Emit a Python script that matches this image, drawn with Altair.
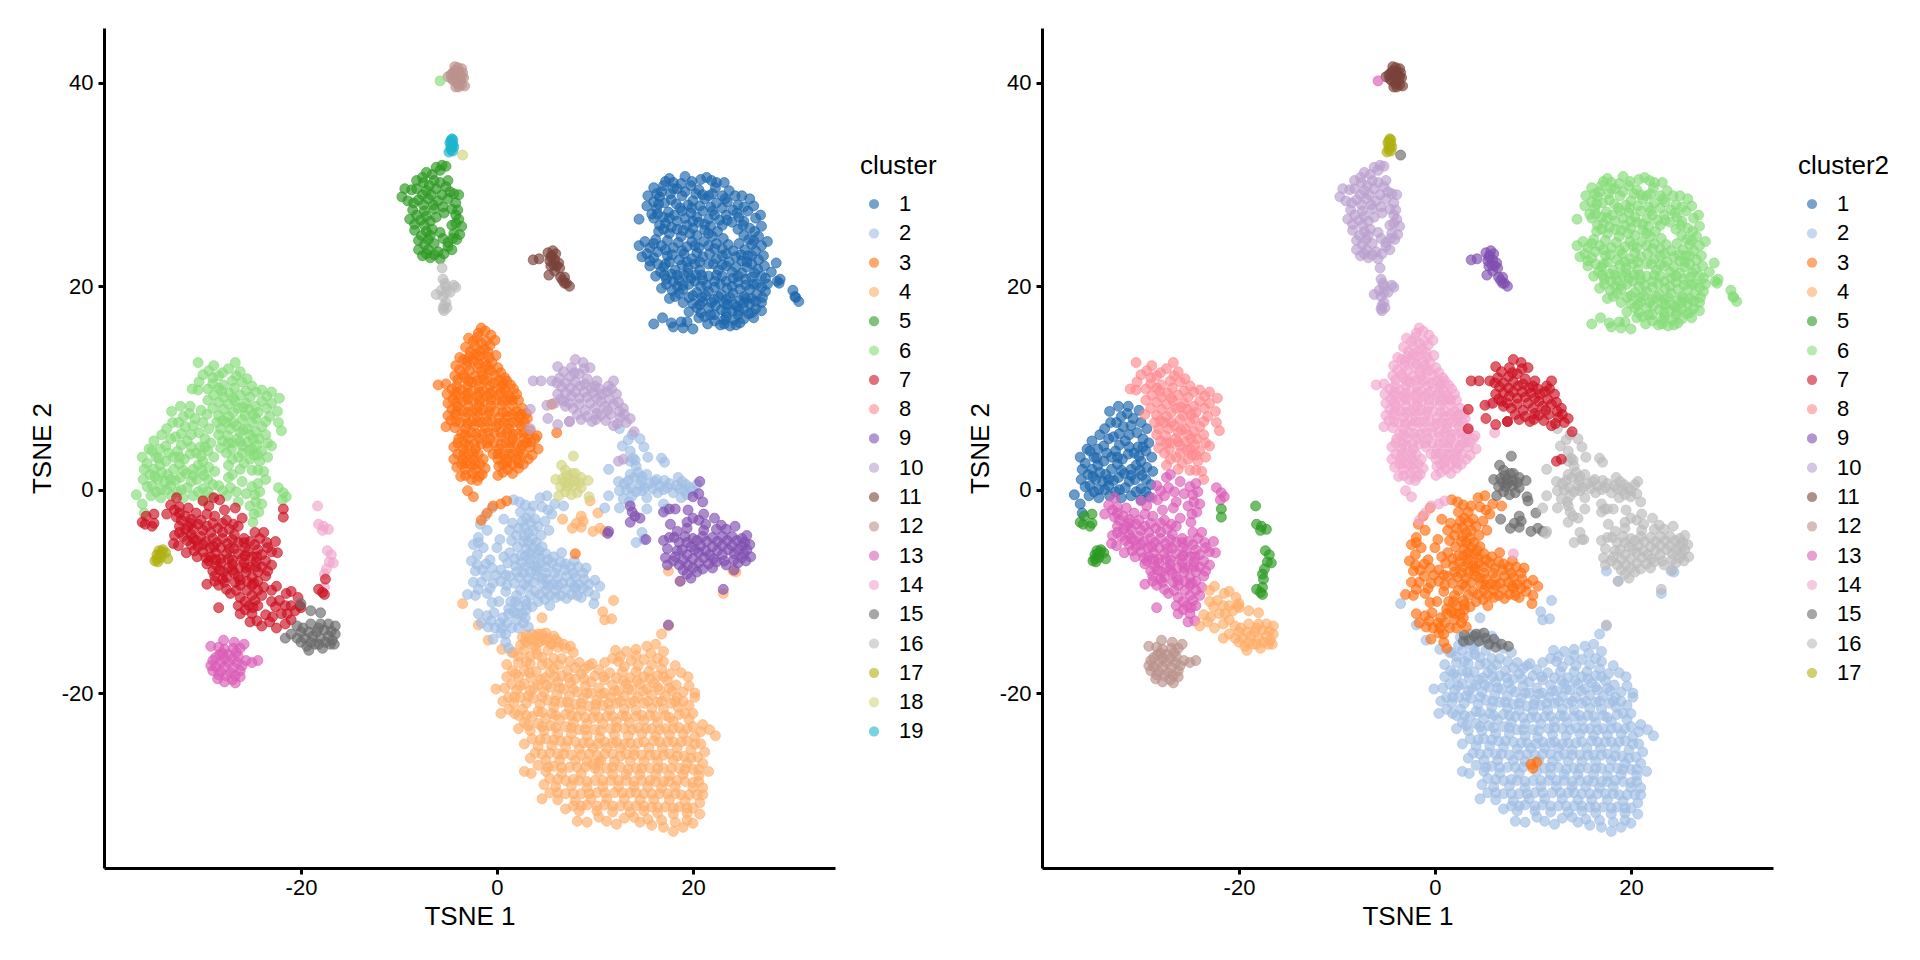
import altair as alt
import pandas as pd

blue_blob = [(17.6,30.6),(19.2,30.8),(21.4,30.7),(23.2,30.2),(16,29.7),(17,29.9),(18.4,29.6),(19.8,29.9),(20.6,29.5),(22.3,29.7),(23.7,29.4),(25,28.9),(25.8,28.6),(15.4,28.9),(16.6,28.8),(17.8,28.5),(18.9,28.9),(20,28.4),(21.2,28.6),(22.4,28.2),(23.5,28.3),(24.6,28),(26.2,27.9),(15.3,27.9),(16.3,27.6),(17.5,27.3),(18.7,27.7),(19.8,27.2),(21,27.4),(22.2,27),(23.4,27),(24.7,26.8),(25.6,27.4),(26.9,27),(16,26.7),(14.5,26.6),(17.2,26.2),(18.4,26.4),(19.4,26),(20.6,26.3),(21.8,25.9),(23,26),(24.6,25.6),(25.8,25.7),(27,25.9),(16.5,25.4),(17.6,25.2),(18.8,24.9),(20.4,25),(22,24.9),(23.1,24.7),(25.7,24.6),(26.7,24.9),(27.6,24.4),(14.5,24),(15.6,23.8),(16.8,24),(18,23.8),(19.4,23.9),(20.6,23.8),(21.6,24),(23,23.7),(24.1,23.5),(25.3,23.6),(26.4,23.5),(27.2,23),(14.8,22.9),(16,22.8),(17.4,23),(18.6,22.6),(19.9,22.7),(21,22.9),(22.4,22.7),(23.7,22.4),(25,22.5),(26,22.2),(27.3,22),(28.5,22.3),(15.6,22),(17,21.9),(18.2,21.6),(19.5,21.8),(20.7,21.6),(22.6,21.6),(24,21.4),(25,21.3),(26.3,21.3),(27,21),(28,21.4),(16.2,21),(17.3,20.7),(18.6,20.6),(19.8,20.8),(21,20.6),(22.2,20.5),(23.4,20.5),(24.6,20.4),(26.2,20.2),(27.6,20.2),(28.8,20.3),(16.8,19.8),(17.9,19.6),(19,19.7),(20.4,19.4),(21.6,19.5),(22.9,19.2),(24.1,19.3),(25.2,19),(26.5,19.2),(27.4,19.5),(17.6,18.8),(19,18.4),(20,18.3),(21,18.5),(22.3,18.1),(23.5,18.2),(24.5,18),(25.8,18.3),(27,18.4),(19.6,17.5),(20.8,17.4),(22.2,17.2),(23.4,17),(24.6,17.2),(25.7,17.3),(27,17.6),(21.5,16.3),(22.8,16.2),(23.8,16.1),(24.8,16.4),(16,16.3),(16.9,16.9),(18,16),(19,15.9),(20,15.8),(20.6,16.9),(19.4,16.5),(30.2,19.6),(30.4,19),(30.8,18.5),(28.6,20.5)]
blue_fill = [(18,30.2),(19.9,30.3),(20.8,30.5),(22.4,30.2),(16.8,29.3),(17.7,29.1),(19.2,29.3),(21,29),(22,29.1),(23,28.9),(24.3,28.9),(16,28.3),(17.1,28.2),(18.3,28.1),(19.5,28),(20.7,27.9),(21.8,27.8),(23,27.7),(24.1,27.5),(25.2,27.8),(15.8,27.1),(17,26.8),(18.1,27),(19.2,26.7),(20.4,26.8),(21.6,26.6),(22.7,26.5),(24,26.3),(25.2,26.4),(26.4,26.7),(16.6,26),(17.8,25.8),(19,25.5),(20,25.7),(21.2,25.5),(22.5,25.4),(25.2,25),(26.3,25.4),(15.1,24.4),(16.2,24.6),(17.4,24.5),(18.5,24.3),(19.9,24.4),(21.1,24.4),(22.4,24.2),(23.6,24.1),(24.7,24.2),(26,24.1),(27,24),(15.3,23.2),(16.4,23.4),(17.9,23.1),(19.1,23.2),(20.4,23.3),(21.7,23.2),(23,23),(24.4,22.9),(25.6,23),(26.7,22.6),(16.4,22.2),(17.6,22.4),(18.9,22.1),(20.2,22.2),(21.6,22.2),(23,22.1),(24.4,21.9),(25.5,21.9),(26.6,21.7),(16.7,21.4),(17.8,21.2),(19.1,21.1),(20.3,21.1),(21.6,21),(23,21),(24.1,20.8),(25.4,20.7),(27.4,20.8),(17.3,20.2),(18.4,20),(19.6,20.2),(20.8,20),(22.2,19.9),(23.5,19.8),(24.8,19.7),(25.8,19.7),(27,19.9),(18.2,19),(19.6,18.9),(20.9,18.9),(22.2,18.7),(23.4,18.7),(24.8,18.6),(26,18.8),(27.1,18.9),(20.4,17.9),(21.6,17.9),(22.9,17.7),(24,17.6),(25.2,17.8),(26.4,17.8),(21.2,17),(22.2,16.6),(23.2,16.7),(24.2,16.7),(25.2,16.8),(26.2,16.9),(17.8,16.4),(18.8,16.5),(30.5,18.9),(28.9,20.7)]
blue_more = [(17.2,30.3),(18.8,30.1),(21.9,30.4),(16.3,29.1),(18,29.6),(20.3,29.1),(21.6,28.9),(23.3,28.6),(16.5,28.1),(18.9,27.4),(19.9,27.7),(22,27.4),(24.5,27.2),(16.4,27.1),(17.6,26.7),(20,26.4),(21.2,26.1),(23.5,26.5),(25.1,26),(17,25.6),(18.4,25.6),(19.7,25.2),(21.6,25.2),(26.2,24.5),(16,24.2),(17.2,23.6),(18.9,23.5),(20.2,24),(22.2,23.7),(23.4,23.2),(24.9,23.1),(26,23),(15.6,22.5),(17.2,22.2),(19.4,22.4),(20.7,22.4),(22.1,22.2),(23.4,22),(25.5,22.4),(17.1,21.1),(18.4,21.1),(19.5,21.3),(20.9,21.1),(22.4,21.1),(24.6,21),(26,20.9),(18,20.5),(19,20.1),(20.2,20.5),(21.4,20.1),(22.8,20.2),(24,20),(25.4,20.1),(26.5,20.2),(18.6,19.3),(20,19.1),(21.3,19.1),(22.6,19),(23.8,18.9),(25.4,18.8),(26.4,18.5),(20.7,18.2),(21.9,18.4),(23.2,18.3),(24.2,18.2),(25.2,18.4),(21.8,17.2),(23.4,17.4),(24.7,17.6),(26,17.4),(23.2,16.3),(24.4,16.2)]
light_orange_blob = [(2.6,-14.5),(3.6,-14.2),(4.6,-14.2),(5.8,-14.4),(6.3,-15),(7,-15.6),(7.8,-16),(12.1,-15.8),(13.2,-15.9),(14.2,-15.7),(15.3,-15.4),(16.2,-15.2),(17,-15.9),(1.5,-16),(2.8,-15.8),(4,-15.7),(5.2,-15.8),(6.6,-16.6),(8.4,-17),(9.7,-17.1),(11,-17),(12.4,-16.9),(13.7,-16.8),(15,-16.7),(16.4,-16.6),(1,-17.2),(2.2,-17),(3.4,-17.1),(4.6,-17.2),(5.8,-17.6),(7.2,-17.8),(8.6,-18.1),(10,-18.3),(11.5,-18),(12.8,-17.9),(14.2,-17.9),(15.5,-17.9),(16.8,-17.6),(18.2,-17.3),(18.8,-18),(19.5,-18.4),(1,-18.4),(2.2,-18.4),(3.5,-18.5),(4.9,-18.5),(6.2,-18.9),(7.5,-19),(9,-19.3),(10.4,-19.5),(11.8,-19.2),(13.2,-19.1),(14.6,-19.1),(16,-19),(17.4,-18.8),(18.3,-19.2),(19.6,-19.3),(-.1,-19.6),(.8,-19.5),(2,-19.7),(3.4,-19.8),(4.8,-19.9),(6.1,-20.2),(7.4,-20.3),(8.8,-20.5),(10.2,-20.7),(11.6,-20.4),(13,-20.3),(14.4,-20.4),(15.8,-20.2),(17.2,-20.3),(18.4,-20.4),(20.2,-20.4),(20.2,-20),(.6,-20.8),(1.7,-21),(3,-21),(4.4,-21.1),(5.8,-21.4),(7.4,-21.5),(8.6,-21.7),(10,-21.8),(11.5,-21.7),(13,-21.6),(14.2,-21.7),(15.8,-21.5),(17,-21.6),(18.5,-21.4),(19.6,-21.2),(.4,-22),(2.2,-22.2),(3.6,-22.3),(5,-22.5),(6.4,-22.6),(7.8,-22.9),(9.2,-23),(10.8,-23),(12.2,-22.8),(13.5,-22.9),(15,-22.7),(16.4,-22.9),(18,-22.8),(19.6,-22.6),(21,-23.1),(21.7,-23.6),(22.3,-24.2),(2.2,-23.5),(3.4,-23.7),(4.8,-23.7),(6.2,-24),(7.6,-24),(9.2,-24.2),(10.5,-24.4),(12,-24.1),(13.4,-24.2),(14.8,-24),(16.2,-24.2),(17.6,-24.1),(19,-24),(20.2,-24.3),(2.8,-25),(4.2,-25.2),(5.6,-25.2),(7,-25.3),(8.4,-25.5),(9.8,-25.4),(11.2,-25.4),(12.6,-25.4),(14,-25.6),(15.5,-25.4),(16.9,-25.4),(18.4,-25.4),(19.8,-25.6),(21.2,-25.8),(3.4,-26.4),(5,-26.6),(6.4,-26.6),(8,-26.6),(9.2,-26.7),(10.6,-26.6),(12,-26.7),(13.6,-26.7),(15,-26.7),(16.4,-26.7),(18,-26.6),(19.4,-26.9),(21,-26.9),(2.8,-27.7),(3.5,-27.9),(5,-27.7),(6.6,-27.9),(8.6,-27.9),(10.4,-27.7),(11.8,-28),(13.2,-28),(14.6,-28),(16.2,-28),(17.6,-28.1),(19,-28),(20.6,-28.1),(21.6,-27.7),(4.8,-29),(6,-29.2),(7.6,-29.1),(9.2,-29.3),(10.8,-29.2),(12.4,-29.2),(14,-29.2),(15.4,-29.2),(16.8,-29.3),(18.2,-29.2),(20,-29.3),(21,-29.3),(4.6,-30.4),(6.2,-30.5),(8,-30.6),(9.6,-30.4),(11.2,-30.4),(13,-30.4),(14.6,-30.5),(16,-30.5),(17.6,-30.5),(19.2,-30.6),(20.7,-30.8),(7,-31.4),(8.4,-31.6),(10.2,-31.6),(11.8,-31.7),(13.6,-31.7),(15,-31.6),(16.4,-31.8),(18,-31.9),(19.4,-31.8),(20.7,-31.9),(8.2,-32.6),(9.2,-32.7),(11.2,-32.6),(12.2,-32.9),(14.6,-32.7),(15.8,-33),(17,-33.2),(18,-33.6),(19,-33.2),(20,-32.8)]
light_orange_fill = [(3.1,-15),(4.2,-15),(5.6,-15.2),(2.2,-16.4),(3.4,-16.4),(4.6,-16.5),(5.8,-16.6),(7.4,-16.9),(9,-17.6),(10.4,-17.7),(11.8,-16.6),(13,-17.4),(14.4,-17.3),(15.8,-17.2),(17,-16.9),(1.6,-17.8),(2.8,-17.8),(4,-17.9),(5.4,-18),(6.6,-18.3),(8,-18.6),(9.6,-18.9),(11,-18.7),(12.2,-18.5),(13.6,-18.5),(15,-18.4),(16.4,-18.3),(17.7,-18.1),(1.5,-19.1),(2.8,-19.1),(4.2,-19.2),(5.5,-19.4),(6.8,-19.6),(8.2,-19.9),(9.6,-20),(11,-20),(12.4,-19.8),(13.8,-19.7),(15.3,-19.6),(16.6,-19.7),(17.9,-19.8),(19,-19.9),(1.2,-20.4),(2.4,-20.4),(3.7,-20.5),(5.2,-20.7),(6.6,-20.9),(8,-21.1),(9.4,-21.3),(10.8,-21.2),(12.2,-21),(13.6,-21),(15,-21),(16.4,-20.9),(17.8,-21),(19,-20.8),(1.2,-21.6),(2.6,-21.6),(4.2,-21.8),(5.6,-22),(7,-22.1),(8.2,-22.3),(9.8,-22.4),(11.2,-22.3),(12.8,-22.2),(14.2,-22.3),(15.6,-22.2),(17.2,-22.2),(18.6,-22.1),(20,-22),(2.8,-22.9),(4.2,-23),(5.5,-23.2),(7,-23.3),(8.4,-23.6),(10,-23.6),(11.6,-23.5),(13,-23.5),(14.4,-23.4),(15.8,-23.5),(17.2,-23.5),(18.6,-23.4),(20,-23.3),(3.6,-24.5),(5,-24.5),(6.5,-24.7),(8,-24.8),(9.4,-24.9),(11,-24.8),(12.2,-24.8),(13.6,-24.9),(15,-24.8),(16.6,-24.8),(18,-24.8),(19.4,-24.7),(20.8,-25),(3.9,-25.9),(5.4,-25.9),(6.8,-26),(8.6,-26.1),(10.2,-26.1),(11.8,-26),(13.2,-26),(14.8,-26.1),(16.2,-26.1),(17.6,-26),(19.1,-26.2),(20.5,-26.3),(4.2,-27.1),(5.8,-27.2),(7.4,-27.3),(9,-27.3),(11.2,-27.4),(12.6,-27.3),(14.2,-27.4),(15.6,-27.4),(17,-27.4),(18.6,-27.4),(20,-27.5),(5.4,-28.4),(7,-28.6),(8.4,-28.6),(10,-28.6),(11.6,-28.6),(13.2,-28.6),(14.8,-28.6),(16.2,-28.7),(17.6,-28.7),(19.2,-28.7),(20.6,-28.7),(5.4,-29.8),(7,-29.9),(8.6,-29.9),(10.2,-29.8),(12,-29.8),(13.6,-29.8),(15,-29.9),(16.6,-29.9),(18.2,-29.9),(19.6,-30),(21,-30),(7.8,-31.1),(9.2,-31),(11,-31),(12.6,-31.1),(14.2,-31.1),(15.8,-31.2),(17.2,-31.2),(18.6,-31.2),(20,-31.3),(10.4,-32.2),(13,-32.3),(14,-32.2),(15.4,-32.4),(16.8,-32.5),(18.2,-32.7),(19.4,-32.5)]
light_orange_more = [(2.4,-15.3),(3.8,-15.4),(4.9,-14.8),(3,-16.9),(4.1,-16.2),(5.2,-17.1),(6.3,-17.2),(8,-17.5),(9.4,-17.3),(12.6,-16.4),(14.2,-16.3),(15.7,-16.1),(1.9,-18.1),(3.3,-18),(4.5,-18.7),(5.9,-18.4),(7.3,-18.5),(8.9,-18.6),(10.9,-18.4),(12.9,-18.8),(14.3,-18.8),(15.6,-18.6),(17,-18.4),(2.4,-19.3),(3.8,-19.5),(5.1,-19.2),(6.4,-19.5),(7.8,-19.6),(9.2,-20),(10.6,-20.1),(12,-19.8),(13.4,-19.6),(14.9,-19.8),(16.4,-19.4),(17.6,-19.5),(1.8,-20.4),(3.2,-20.3),(4.6,-20.4),(5.9,-20.8),(7.2,-20.9),(8.6,-21),(10.1,-21.1),(11.4,-21),(12.6,-20.8),(14,-20.8),(15.4,-20.8),(16.8,-20.8),(18.2,-20.8),(1.8,-22),(3,-22.2),(4.6,-21.9),(6,-22.2),(7.6,-22.2),(9,-22.4),(10.4,-22.4),(11.8,-22.3),(13.2,-22.3),(14.8,-22.2),(16.2,-22.3),(17.6,-22.4),(19.2,-22),(3.2,-23.2),(4.6,-23.3),(6,-23.4),(7.6,-23.4),(9,-23.6),(10.6,-23.7),(12.2,-23.4),(13.8,-23.6),(15.2,-23.5),(16.6,-23.6),(18,-23.5),(19.4,-23.5),(20.8,-23.8),(4.4,-24.6),(5.8,-24.6),(7.2,-24.7),(8.8,-24.9),(10.3,-25),(11.8,-24.9),(13,-25),(14.4,-24.9),(16,-24.7),(17.4,-24.8),(18.8,-24.8),(20.2,-25),(4.6,-26),(6.2,-26),(7.6,-26.1),(9.4,-26),(11,-26),(12.6,-26.2),(14,-26.1),(15.6,-26.1),(17,-26.1),(18.4,-26.2),(19.8,-26.4),(5.2,-27.3),(6.6,-27.3),(8.2,-27.3),(11.8,-27.3),(13.4,-27.5),(14.8,-27.4),(16.4,-27.4),(17.8,-27.4),(19.2,-27.5),(20.6,-27.5),(6.2,-28.5),(7.8,-28.5),(9.2,-28.7),(10.8,-28.6),(12.4,-28.6),(14,-28.7),(15.6,-28.6),(17,-28.7),(18.4,-28.6),(20,-28.8),(6.2,-29.8),(7.8,-29.9),(9.4,-29.9),(11,-29.8),(12.8,-29.8),(14.2,-29.8),(15.8,-29.9),(17.4,-29.9),(18.8,-30),(20.4,-30),(8.6,-31.1),(10.2,-31.1),(11.8,-31.1),(13.4,-31.1),(15,-31.1),(16.4,-31.2),(18,-31.3),(19.4,-31.3)]
light_orange_patch = [(9.8,-27),(10,-27.4),(10.4,-26.8)]
light_orange_dark = [(3,-14.3),(4,-14.4),(5,-14.1),(6,-14.7),(6.8,-15.2),(4.5,-14.9),(5.5,-15.2),(7.5,-15.4),(3.5,-14.8),(5.2,-14.6),(6.2,-15.5),(4.2,-14.2),(2.9,-14.9)]
light_orange_gap = [(9.5,-1.1),(10.3,-2.3),(8.6,-2.6),(8.8,-3.1),(8.1,-3.3),(7.7,-3.8),(8.6,-3.7),(9.8,-4.1),(10.5,-3.8),(11,-4.1),(6.7,-2.9)]
light_orange_stray = [(17.5,-8),(18.7,-9),(24.1,-8),(24.4,-8.1),(23.1,-10.2),(16.8,-14.2),(17.5,-13.4),(11.9,-10.9),(10.8,-12),(11,-12.8),(11.7,-12.7),(4.6,-12.6),(-1.9,-13.3),(-3.5,-11.2),(-.9,-14.8),(.5,-15.7),(1.7,-16)]
light_blue_low = [(1.7,-1),(2.3,-1.2),(2.9,-1.5),(3.4,-2.2),(4.4,-.8),(5.1,-.6),(5.9,-1.4),(6.8,-1.6),(5.6,-2.4),(4.9,-3.1),(4.2,-3.6),(3.4,-3.2),(2.6,-3.1),(.7,-2.9),(1.3,-4),(2,-4.5),(2.8,-4.6),(3.6,-4.8),(4.5,-4.5),(5.3,-4),(-.5,-1.8),(-1.2,-2.6),(-1.7,-3.4),(-1.9,-4.7),(-2.4,-5.4),(-1.4,-5.7),(-2.6,-7),(-.7,-6.9),(0,-5.7),(.3,-4.9),(1.3,-6.2),(1.1,-7.2),(2.7,-5.1),(3.7,-5.7),(4.4,-6.7),(3.4,-6.8),(2.4,-6.5),(1.9,-7.5),(2.9,-7.6),(3.9,-7.5),(5,-7.6),(5.8,-6.6),(6.6,-6.2),(6.1,-7.7),(7,-7.3),(7.9,-7),(8.3,-7.6),(9.1,-7.7),(.4,-7.9),(-.5,-7.7),(-1.5,-7.9),(-2.2,-8),(-2.4,-9.1),(-1.6,-9.1),(-.4,-9.2),(.4,-9),(1.3,-8.5),(2.3,-8.6),(3.2,-8.7),(4.2,-8.5),(5.2,-8.8),(6.2,-8.7),(7.1,-8.5),(8,-8.6),(8.9,-8.8),(10,-8.9),(10.5,-9.5),(-3,-10.3),(-2.2,-10.4),(-1,-10.2),(-.5,-11.1),(.9,-10),(1.4,-11),(2.4,-9.9),(2.9,-10.9),(3.9,-10),(5,-9.9),(6,-9.9),(7,-9.8),(8,-9.7),(9.3,-10),(10,-10.4),(9.9,-11.2),(-.3,-12.1),(1.2,-12.2),(2.2,-11.4),(3.6,-11.5),(5.4,-11.4),(4.2,-11),(-1.9,-12.2),(-1.6,-13.1),(-.6,-12.9),(.3,-13.1),(1,-13.1),(2,-12.8),(2.9,-12.6),(3.2,-13.5),(2.2,-13.6),(.4,-14.1),(-.4,-14.7),(.9,-15),(1.2,-15.6)]
light_blue_low_fill = [(2.4,-2.2),(3,-2.8),(1.6,-3.3),(3.9,-2.9),(5.2,-2),(4.6,-1.7),(2.2,-3.8),(3.2,-4.2),(4,-5.2),(3,-5.8),(2.1,-5.6),(1.5,-5),(4.6,-5.6),(5,-6.3),(4,-6.3),(2.9,-6.5),(1.8,-6.8),(3.4,-7.2),(4.5,-7.2),(5.6,-7.2),(6.5,-7.1),(7.5,-7.6),(5,-8.2),(4,-8),(2.7,-8.2),(3.7,-9.1),(4.7,-9.3),(5.7,-9.3),(6.7,-9.2),(7.5,-9.1),(8.4,-9.3),(9.4,-9.3),(1.8,-9.2),(1,-9.4),(3.1,-9.5),(4.4,-10.3),(5.4,-10.4),(6.5,-10.4),(7.6,-10.3),(8.6,-10.6),(3,-11.8),(2.6,-12.2),(1.7,-12),(.6,-12.6),(1.5,-13.6),(.9,-14.2),(-.2,-13.6),(-1.9,-5.2),(-2,-6.4),(-2,-7.4),(-1.1,-7.3),(-1,-4),(.7,-6.6)]
light_blue_low_more = [(3.7,-1.6),(2.8,-3.7),(3.7,-4),(3.2,-5.2),(4.3,-6),(3.4,-6.2),(2.5,-7.2),(4.1,-7.7),(5.2,-6.9),(5.9,-8.2),(6.9,-7.9),(7.8,-8.2),(8.8,-8.2),(3.4,-8.1),(4.6,-8.7),(2,-8.1),(.9,-8.4),(-.1,-8.4),(-1.1,-8.5),(-1.9,-9.8),(-.7,-9.7),(2,-10.4),(3.4,-10.4),(4.9,-10.8),(6,-10.6),(7.1,-10.7),(8.2,-10.4),(2.8,-9.3),(5.2,-9.4),(6.2,-9.4),(7.9,-9.5),(8.8,-9.7),(.2,-11),(1.9,-11),(3,-11.3),(1.2,-11.7),(2.1,-12.2),(.5,-13.6),(-.9,-13.5),(2.7,-13.1),(-1,-12.4)]
light_blue_up = [(12.8,4.3),(13.6,3.8),(15,4.2),(13.6,2.8),(14.2,2.3),(16.8,3.1),(17.1,2.7),(11.4,2),(12.4,.8),(13.6,1.5),(15.3,1.5),(16.1,.8),(17.1,.9),(18.5,1.2),(19.3,.5),(20.4,.5),(20,-.1),(18.3,.4),(17,0),(15.6,.6),(14.6,.4),(13.2,0),(12.5,-.1),(13.8,-.6),(15.3,-.8),(11.4,-.6),(11,-1.8),(12.5,-1.8),(15.3,-1.9),(17,-1.4),(18.8,-.8),(17.3,-1.9),(14.8,-4.2),(14.2,-5.2),(15,-4.9),(12.5,6),(13.8,5.4),(14.6,5),(13.4,4.9),(15.4,3.2),(18,-.3),(14.8,-.1),(14,1.2),(13,.6),(14.7,.9),(15.9,.1),(16.6,.4),(17.6,.6),(18.9,.8),(19.7,.2),(13.5,-1.2),(14.4,1.7),(13.9,3.1),(14.2,-.2),(12.9,-.9),(16.4,-.3),(13.4,.9),(13.7,.2),(15.1,.2),(16.3,1),(17.4,.2),(18.6,.1),(19.1,-.1),(19.4,-.5),(14.1,2.9),(14.8,1.3)]
orange_blob = [(-1.6,15.9),(-.6,15.2),(-2.9,14.9),(-2,15),(-1.1,14.6),(-.2,14.7),(-3.2,14),(-2.2,14.1),(-1.3,13.8),(-3.8,13),(-2.8,13.1),(-1.8,13.1),(-.8,13),(-.1,13.2),(-4.2,12.2),(-3.1,12.2),(-2,12),(-1,12.2),(.1,12),(-4.3,11.2),(-3.4,11.3),(-2.3,11.1),(-1.4,11.2),(-.2,11.2),(.8,11),(-6,10.3),(-5.2,10.4),(-4.1,10.2),(-3,10.2),(-1.8,10.2),(-.7,10.2),(.5,10.2),(1.4,10.3),(-5.1,9.4),(-4.2,9.3),(-3.2,9.2),(-2,9.2),(-1,9.2),(.2,9.3),(1.2,9.3),(2,9.4),(-5,8.5),(-4,8.2),(-2.9,8.2),(-1.8,8.2),(-.6,8.2),(.5,8.3),(1.6,8.3),(2.6,8),(-5,7.3),(-4.2,7.4),(-3.2,7.1),(-2,7.2),(-1,7.3),(.2,7.1),(1.1,7.2),(2.2,7.2),(3.1,7),(-5.2,6.2),(-4.3,6.1),(-3.2,6),(-2.3,6.3),(-1.2,6.1),(-.1,6.2),(1.2,6),(2.5,6.2),(3.4,5.8),(-3.9,5),(-2.9,5),(-1.8,5),(-.7,5),(.5,5.2),(1.6,5),(2.8,5),(3.9,5),(4.2,4),(-4.4,4.2),(-3.4,4),(-2.2,4),(-.9,4.2),(.2,4),(1.3,4.1),(2.4,4),(3.4,4.2),(-4.4,3),(-3.5,3),(-2.4,3),(-1.4,3),(.1,3),(1,3),(2,3),(3.2,3),(-4.1,2.2),(-3.2,2),(-2.2,2),(-1.2,2.1),(.2,2.3),(1.1,2),(2.2,2.1),(-3.7,1.3),(-2.6,1),(-2,.9),(-1.5,1.5),(-3,-.1),(-2.4,-.7),(.1,1.4)]
orange_fill = [(-1.2,15.6),(-2.4,14.6),(-.7,14.2),(-1.7,13.6),(-2.7,13.6),(-3.4,12.8),(-2.4,12.7),(-1.3,12.6),(-.5,12.5),(-3.8,11.8),(-2.8,11.7),(-1.6,11.6),(-.6,11.7),(.4,11.5),(-4,10.8),(-2.9,10.7),(-2,10.7),(-1,10.7),(.2,10.7),(1,10.7),(-4.6,9.9),(-3.6,9.8),(-2.5,9.7),(-1.4,9.7),(-.4,9.7),(.8,9.8),(1.7,9.9),(-4.5,8.9),(-3.5,8.7),(-2.4,8.7),(-1.3,8.7),(-.1,8.8),(1,8.8),(2.2,8.8),(-4.6,7.9),(-3.5,7.7),(-2.5,7.7),(-1.4,7.8),(-.2,7.7),(1,7.7),(2,7.7),(3,7.5),(-4.7,6.8),(-3.7,6.6),(-2.6,6.7),(-1.6,6.6),(-.5,6.7),(.7,6.6),(1.7,6.6),(2.8,6.6),(-3.6,5.5),(-2.6,5.6),(-1.5,5.5),(-.3,5.6),(1,5.6),(2.1,5.5),(3.2,5.4),(4.1,5.3),(-4,4.6),(-2.9,4.4),(-1.6,4.5),(-.3,4.6),(.9,4.6),(2,4.5),(3,4.6),(-4,3.5),(-2.9,3.5),(-1.9,3.5),(-.4,3.5),(.6,3.5),(1.6,3.5),(2.7,3.5),(3.6,3.4),(-3.6,2.5),(-2.7,2.5),(-1.7,2.5),(.6,2.5),(1.6,2.5),(2.7,2.5),(-3.2,1.4),(-2.5,1.6),(-1.8,1.3),(.6,1.7),(1.6,1.6)]
orange_more = [(-1.9,15.4),(-1.6,14.4),(-.9,13.5),(-2.2,13.3),(-3,12.6),(-1.9,12.4),(-.9,11.8),(-3.3,11),(-2.6,10.6),(-1.3,10.8),(-.3,10.5),(.6,10.4),(-4.1,9.6),(-3,9.5),(-1.8,9.6),(-.7,9.5),(.4,9.6),(1.4,9),(-4.1,8.6),(-3,8.9),(-1.8,8.7),(-.6,8.8),(.6,8.7),(1.6,8.8),(-4.1,7.7),(-3,7.6),(-2,7.7),(-.8,7.7),(.6,7.6),(1.6,7.4),(2.5,7.4),(-4.2,6.7),(-3,6.5),(-2,6.7),(-1,6.7),(.2,6.5),(1.2,6.5),(2.2,6.6),(-3.2,5.4),(-2.1,5.5),(-.9,5.6),(.4,5.6),(1.6,5.5),(2.7,5.6),(-3.3,4.5),(-2.3,4.5),(-1,4.6),(.4,4.5),(1.4,4.6),(2.6,4.4),(3.5,4.7),(-3.4,3.5),(-2.4,3.5),(.1,3.5),(1.2,3.5),(2.2,3.5),(-3.2,2.6),(-2.2,2.5),(1,2.6),(2.2,2.6)]
orange_stray = [(5.6,8.4),(6.1,5.6)]
orange_arc = [(-1.6,-3),(-1,-2.3),(-.4,-1.6),(.4,-1.4),(1,-1.1),(8,-6.3)]
lilac_blob = [(3.7,10.7),(4.5,10.7),(5.6,10.7),(6.2,12.1),(6.4,11),(7.5,11.1),(8,12.8),(8.8,12.5),(9.5,12),(7.6,12),(8.4,11.4),(9.2,10.9),(10.2,10.7),(10.5,9.9),(9.6,10),(8.5,10.2),(7.5,10),(6.6,10.1),(11.9,10.7),(12.2,9.4),(11.2,9.6),(10.2,9),(9.2,9.1),(8.4,9),(7.6,9.2),(6.5,8.9),(5.9,8.5),(5.1,8.3),(12.9,8),(11.9,8.4),(11,8.2),(10,8),(9,7.8),(7.8,8),(7,8.2),(13.6,7),(13.2,6.6),(12.6,7.1),(11.9,6.3),(11.6,7.4),(10.6,7.3),(9.7,6.7),(8.6,6.9),(7.4,6.7)]
lilac_fill = [(6.8,11.6),(7.9,11.5),(8.9,11.9),(6.1,10.5),(7,10.5),(8,10.6),(9,10.4),(10,10.2),(11.4,10.2),(11.7,9.9),(10.7,9.4),(9.8,9.5),(8.9,9.6),(8,9.6),(7,9.5),(6.2,9.4),(6.8,8.7),(7.4,8.5),(8.4,8.4),(9.5,8.5),(10.6,8.7),(11.5,8.9),(12.4,8.6),(12.5,7.7),(11.3,7.8),(10.2,7.5),(9.2,7.2),(8.2,7.4),(13,7.4),(12.3,6.5),(11.1,6.8),(10.1,6.9)]
lilac_stray = [(3.4,7.9),(5.2,7),(6.2,6.4),(7.4,6.7),(3.4,6),(14,5.7),(12.4,2.8),(12.9,3)]
brown_c11 = [(3.7,22.6),(4.3,22.7),(5.2,23.3),(6,23.2),(5.4,22.5),(6.3,22.3),(5.9,21.5),(5.5,22),(5.3,21.1),(6.5,20.9),(6.9,20.3),(7.4,20),(5.7,23.5),(5.6,23),(5.9,22.6),(6.1,22),(5.8,22.1),(6.7,20.6),(7.1,20.3),(6.9,20.9),(5.5,22.9),(6.4,21.8)]
rose_c12 = [(-4.3,41.6),(-3.6,41.4),(-4.5,41),(-3.8,40.8),(-5,40.6),(-3.4,40.5),(-4.4,40.2),(-4,39.9),(-3.6,39.8),(-3.3,39.7),(-4,41.5),(-3.9,41.1),(-4.2,40.7),(-4.6,40.4),(-4.1,40.3),(-3.7,40.2),(-3.5,41),(-4.7,40.8),(-4.2,39.6),(-3.9,39.6),(-4.3,41.2),(-3.6,40.6)]
cyan_c19 = [(-4.6,34.5),(-4.5,34),(-4.7,33.4),(-4.9,33.2),(-4.4,33.7),(-4.5,34.4),(-4.8,34.1),(-4.6,33.8),(-4.7,33.7),(-4.5,33.3),(-4.7,34.3)]
khaki_top = [(-3.5,32.9)]
mint_top = [(-5.8,40.2)]
green_blob = [(-6.2,31.7),(-5.6,31.9),(-5.2,31.8),(-7.2,31.2),(-8.2,30.4),(-7.5,30.2),(-6.4,30.4),(-9.4,29.6),(-8.7,29.5),(-9.7,28.8),(-7.2,29.4),(-6.2,29.6),(-5.2,29.8),(-4.4,29.1),(-3.9,29),(-9.1,28.4),(-8,28.5),(-7,28.6),(-6,28.4),(-5,28.6),(-4.2,28.2),(-8.6,27.5),(-7.4,27.4),(-6.4,27.6),(-5.4,27.2),(-4.2,27),(-8.9,26.6),(-7.8,26.5),(-6.8,26.4),(-4.2,26.2),(-3.6,25.9),(-8.4,25.5),(-7.2,25.4),(-5.8,25.3),(-4.4,25.2),(-3.8,25.1),(-8,24.5),(-7,24.6),(-6.4,24.2),(-5,24.3),(-4.5,24.7),(-8,23.6),(-7,23.6),(-6,23.4),(-5,23.9),(-5.8,22.7),(-6.8,22.8),(-7.6,23)]
green_fill = [(-5.8,31.4),(-6.6,31),(-7.6,30.7),(-6.9,29.9),(-5.8,30.2),(-5,30.4),(-8.2,29.6),(-7.6,29),(-6.7,29),(-5.6,29),(-4.8,29.3),(-8.5,28.2),(-7.5,28),(-6.5,28),(-5.5,27.8),(-4.6,27.6),(-8.2,27),(-7.2,26.9),(-6.2,26.8),(-4,27.5),(-8.4,26.1),(-7.4,26),(-6.6,25.6),(-3.9,26.6),(-4.6,26),(-7.7,25),(-6.8,25),(-4.1,24.6),(-7.4,24.1),(-5.5,24.7),(-5.4,23.2),(-6.4,23.1),(-7.2,23.2),(-4.6,23.6)]
grey_top = [(-5.6,21.8),(-5.5,20.7),(-5.2,20),(-4.4,20.1),(-4.2,19.9),(-6.2,19.2),(-5.5,19),(-4.8,19.4),(-5.2,18.4),(-5.5,17.8),(-5.4,17.6),(-5.7,19.6),(-5.2,19.4),(-5.3,20.3),(-5.4,18.1),(-5.1,17.9)]
green_c6_blue = [(-36.8,-.5),(-36.2,-1.4),(-36,-2.3),(-36.2,3.2),(-36,2),(-36.1,1),(-35.7,.3),(-35.3,-.6),(-35.5,4),(-35,4.8),(-34.8,3.2),(-35,2),(-34.6,1),(-34.3,0),(-34.3,-.8),(-34.2,5.4),(-33.8,4.3),(-33.8,2.8),(-33.6,1.5),(-33.3,.4),(-33.2,-.6),(-33.7,6),(-33.1,6.6),(-33.2,7.7),(-32.8,5.2),(-32.6,3.8),(-32.4,2.5),(-32.3,1.2),(-32.2,0),(-32,-.8),(-32.3,8.2),(-32,7.2),(-31.8,6.2),(-31.6,4.8),(-31.3,3.5),(-31,2),(-31.2,.8),(-31,-.6),(-31.3,8.2),(-30.8,7),(-30.4,5.6),(-30.3,4.2),(-30,2.8),(-29.9,1.4),(-30,.1),(-30,-1),(-29.4,6),(-29.2,4.6),(-28.9,3.2),(-28.8,1.8),(-29,.5),(-29.2,-.7)]
green_c6_blue_fill = [(-35.7,2.6),(-35.4,1.5),(-35.2,.4),(-34.8,-.2),(-35.2,3.8),(-34.4,4),(-34.4,2.4),(-34.2,1.7),(-33.9,.8),(-33.7,0),(-33.3,5),(-33,3.2),(-33,2),(-32.8,.9),(-32.6,-.2),(-32.5,6.6),(-32.2,4.4),(-31.9,3),(-31.7,1.6),(-31.6,.2),(-31.2,5.4),(-31.4,7.5),(-30.7,3.6),(-30.5,2.4),(-30.6,1),(-30.5,-.2),(-30,6.6),(-29.8,5),(-29.5,3.8),(-29.4,2.2),(-29.5,1),(-29.5,-.2),(-30.2,7.8),(-34.9,1.3),(-34.5,3.1),(-33.5,3.6),(-33.3,1),(-32.4,3.2),(-32,1.9),(-31.2,4.2),(-31,1.4),(-30.2,3.3),(-30.1,1.9),(-32.2,5.5),(-31,6.3),(-29.8,4.2)]
green_c6_salmon = [(-30.5,12.5),(-30,11.3),(-28.9,12.2),(-29,11),(-28,11.5),(-26.7,12.5),(-26.2,11.6),(-27,10.7),(-26,10.6),(-25,10.2),(-24,9.8),(-23,9.6),(-22.2,9),(-31.1,9.9),(-30.5,9.8),(-29.5,9.9),(-28.4,10),(-27.3,9.5),(-26.2,9.3),(-25.2,9.1),(-24,8.7),(-23,8.5),(-29.5,8.8),(-28.4,8.6),(-27.4,8.4),(-26.4,8),(-25.3,7.9),(-24.4,7.6),(-23.2,7.2),(-22.4,7.7),(-29.6,7.4),(-28.4,7.3),(-27.4,7.2),(-26,6.9),(-25,6.6),(-24,6.2),(-22,5.8),(-22.3,6.6),(-28.2,6),(-27.2,6),(-26.2,5.6),(-25.2,5.4),(-24.3,5),(-23.4,4.6),(-23,4.3),(-28,4.8),(-27,4.6),(-26,4.3),(-25,4),(-24,3.8),(-27.6,3.6),(-26.4,3.2),(-25.2,3),(-24.2,2.8),(-23.4,3.2),(-27.4,2.4),(-26.2,2),(-23.8,1.8),(-23.6,1)]
green_c6_salmon_fill = [(-29.4,11.7),(-28.4,11.2),(-27.4,11.9),(-26.6,11.2),(-25.5,10.9),(-29,10.4),(-27.9,10.3),(-26.8,10),(-25.6,9.7),(-24.6,9.6),(-23.5,9.2),(-30.4,10.6),(-28.9,9.3),(-27.9,9.1),(-26.7,8.7),(-25.6,8.5),(-24.6,8.2),(-23.5,8),(-29,8),(-27.9,7.9),(-26.9,7.6),(-25.7,7.3),(-24.6,7),(-23.6,6.7),(-28.6,6.6),(-27.6,6.6),(-26.6,6.3),(-25.5,6),(-24.6,5.7),(-23.6,5.4),(-28.4,5.4),(-27.5,5.3),(-26.5,5),(-25.5,4.7),(-24.5,4.4),(-28.2,4.1),(-27.1,4),(-26,3.6),(-24.8,3.4),(-27,3),(-25.8,2.6),(-25,1.9),(-24.4,1.9),(-28.1,9.7),(-26.9,9),(-25.9,8.1),(-24.9,7.4),(-28,6.8),(-26.9,6.6),(-25.9,5.9),(-24.9,5),(-27.4,4.6),(-26.2,4.7),(-25.3,3.9),(-24.4,3.4)]
green_c6_mag = [(-28.4,.4),(-27.4,1.2),(-27.2,.2),(-26,.8),(-25.6,-.4),(-25,.3),(-24.2,-.2),(-24.6,-1.2),(-24,-1.4),(-25.2,-1.6),(-24.8,-2.4),(-24.9,-3.2),(-27.6,-.6),(-26.4,-1.2),(-22.3,.2),(-21.9,-1),(-21.5,-.7),(-21.8,-.3),(-24.4,.6),(-24.7,-.5),(-24.3,-2.2),(-27,1.5),(-26.6,-.2),(-28,-.1)]
red_blob = [(-32.7,-.8),(-33.3,-1.5),(-32.4,-1.7),(-33.7,-2.4),(-32.7,-2.7),(-31.8,-2.6),(-30.7,-2.3),(-30,-1.1),(-28.9,-.8),(-28.3,-1),(-29.4,-1.6),(-27.8,-2),(-28.8,-2.6),(-27.6,-3),(-26.7,-1.8),(-26,-2.8),(-32.4,-3.6),(-31.5,-3.6),(-30.5,-3.4),(-29.6,-3.6),(-28.5,-3.8),(-27.3,-3.9),(-26.4,-3.6),(-32.9,-4.5),(-32,-4.6),(-31.2,-4.4),(-30.2,-4.6),(-29,-4.8),(-28,-4.8),(-27,-4.9),(-25.8,-4.8),(-24.7,-4.2),(-23.8,-4.2),(-33,-5.3),(-32.5,-5.5),(-31.2,-5.4),(-30.5,-5.6),(-29.3,-5.7),(-28.2,-5.7),(-26.8,-5.8),(-25.7,-5.7),(-24.7,-5.4),(-23.5,-5.2),(-22.6,-5.1),(-31.7,-6.2),(-30.6,-6.6),(-29.2,-6.6),(-28.2,-6.8),(-27,-6.9),(-26,-6.8),(-25,-6.6),(-24,-6.4),(-23,-6.1),(-22.4,-6.2),(-29.6,-7.3),(-28.6,-7.5),(-27.4,-7.7),(-26.3,-7.7),(-25.2,-7.6),(-24,-7.6),(-23,-7.4),(-28.8,-8.5),(-27.6,-8.6),(-26.4,-8.6),(-25,-8.6),(-23.6,-8.5),(-29.6,-9.3),(-28.4,-9.4),(-27.6,-9.8),(-26.2,-9.4),(-25,-9.4),(-23.8,-9.6),(-27.2,-10.2),(-26.2,-10.6),(-25,-10.4),(-24,-10.4),(-26.4,-11.4),(-25.3,-11.4),(-24.4,-11.4),(-28.4,-11.6),(-26.2,-12.2),(-25,-12.2),(-24.5,-12.9),(-25.2,-13)]
red_fill = [(-32.9,-2),(-32.2,-3),(-31.2,-2.9),(-31,-3.9),(-30,-4),(-29,-3.3),(-28,-3.3),(-26.9,-3.4),(-31.8,-3.9),(-32.4,-4.2),(-31.6,-5),(-30.7,-5),(-29.7,-5.1),(-28.6,-5.2),(-27.5,-5.3),(-26.4,-5.2),(-25.2,-5.1),(-24.2,-4.8),(-30.9,-6),(-30,-6.1),(-28.7,-6.2),(-27.6,-6.3),(-26.4,-6.3),(-25.4,-6.1),(-24.4,-5.9),(-23.4,-5.7),(-29.4,-7),(-28.2,-7.2),(-27,-7.3),(-25.8,-7.2),(-24.6,-7.1),(-23.6,-7),(-29,-8),(-27.9,-8.1),(-26.8,-8.2),(-25.6,-8.1),(-24.4,-8.1),(-23.4,-8),(-28.8,-9),(-27.8,-9.1),(-26.7,-9.1),(-25.5,-9),(-24.4,-9),(-26.6,-9.9),(-25.5,-9.9),(-24.4,-9.9),(-25.7,-11),(-24.7,-10.9),(-25.7,-11.8),(-24.9,-11.6),(-29.6,-2.4),(-31.5,-1.8),(-32.4,-2.3),(-31.2,-3.3),(-30.2,-3),(-29.2,-4.2),(-28,-4.2),(-26.8,-4.4),(-31,-4.8),(-30,-5.4),(-28.9,-5.6),(-27.3,-5.8),(-25.8,-5.2),(-29.7,-6.7),(-28.7,-6.9),(-27.4,-6.8),(-25.7,-6.5),(-24.5,-6.6),(-28.3,-7.9),(-27,-7.9),(-25.6,-7.7),(-24.6,-7.6),(-28,-8.8),(-26.2,-8.9),(-24.8,-9.2)]
red_to_orange = [(-23,-9.9),(-22.2,-10.9),(-21.5,-10.2),(-21,-11.4),(-20.3,-10.6),(-20.1,-11.4),(-20,-11.6),(-22,-12.2),(-21,-12.8),(-22.9,-12.5),(-22.5,-13.6),(-21.6,-13.2),(-24,-13.4),(-23.6,-12.3),(-22.6,-11.5),(-21.6,-11.4),(-20.6,-11.9),(-23,-11),(-22.5,-9.5),(-21,-10),(-23.2,-13),(-21.4,-12.2)]
grey_c15 = [(-20,-11.2),(-19,-11.9),(-18,-12.1),(-21.6,-14.6),(-21,-14.2),(-20.4,-13.4),(-19.8,-13.6),(-19,-13.2),(-18.2,-13.6),(-17.2,-13.2),(-16.5,-13.4),(-20.4,-14.6),(-19.6,-14.6),(-18.8,-14.4),(-18,-14.6),(-17.2,-14.4),(-16.5,-14.2),(-19.4,-15.4),(-18.6,-15.2),(-17.8,-15.6),(-17,-15.2),(-16.6,-15.2),(-19.2,-15.8),(-18.2,-15.2),(-20,-14),(-19.2,-14),(-18.4,-14),(-17.6,-13.8),(-16.9,-13.9),(-20,-15),(-19,-15),(-17.5,-15),(-16.8,-14.8),(-18,-13.2)]
magenta_c13 = [(-29.2,-15.4),(-28.4,-15.5),(-27.9,-14.8),(-26.8,-15),(-26.2,-15.6),(-25.8,-15.2),(-28.3,-16.2),(-27.4,-16.2),(-26.6,-16),(-29,-16.8),(-28.2,-17),(-27.4,-17),(-26.5,-17),(-25.6,-16.8),(-25,-17),(-24.4,-16.8),(-29,-17.8),(-28.2,-17.9),(-27.2,-18),(-26.2,-17.8),(-28.5,-18.6),(-27.8,-18.9),(-27,-18.7),(-26.2,-18.4),(-26.7,-19),(-27.8,-15.7),(-26.9,-15.6),(-26.4,-16.4),(-28.7,-16.5),(-27.8,-16.6),(-27,-16.6),(-28.7,-17.4),(-27.8,-17.4),(-26.9,-17.5),(-26,-17.3),(-28.4,-18.2),(-27.6,-18.3),(-26.7,-18.3),(-29.2,-17.3),(-28,-16.1)]
pink_c14 = [(-18.3,-1.6),(-18.2,-3.4),(-17.7,-3.6),(-17.2,-3.9),(-17.8,-4),(-17.3,-6),(-16.9,-6.4),(-16.7,-7.2),(-17.1,-7.1),(-17.4,-7.8),(-17.6,-8.3),(-17.6,-9.6)]
red_right = [(-21.8,-1.9),(-21.8,-2.7),(-35.8,-2.6),(-35,-2.4),(-35.9,-3.4),(-36.2,-3.2),(-35.2,-3.6),(-35,-3.3),(-17.8,-10.1),(-17.6,-10.3),(-18.2,-9.8),(-17.5,-8.8)]
olive_c17 = [(-34.5,-6),(-34.1,-5.9),(-33.8,-6.2),(-34.3,-6.7),(-34.6,-7.1),(-34.7,-6.4),(-33.6,-6.8),(-34.9,-7),(-34.4,-6.4),(-34.7,-6.8),(-34.2,-6.1)]
khaki_c18 = [(7.8,3.3),(6.6,2.4),(7,1.9),(7.7,1.6),(6,1),(6.7,1.1),(7.4,1),(8,1.6),(8.6,1.2),(9.3,.9),(6.5,.3),(7.2,.3),(7.9,.4),(8.6,.2),(7,-.2),(7.6,-.5),(9.4,-.7),(6.3,-.6),(8.2,-.3),(7.1,1.4),(7.9,.9),(8.4,.7),(6.9,.7),(7.4,.6)]
purple_blob = [(20.7,.8),(20.6,-.4),(20,-.7),(21,-1.2),(21.1,-2.4),(17,-2.2),(17.6,-1.9),(18.2,-1.9),(19.5,-2),(20,-2.8),(19.4,-3.2),(22.2,-2.8),(21.3,-3.4),(22.9,-3.5),(17.7,-3.4),(18.4,-4.1),(22.4,-3.9),(23.4,-3.9),(24.3,-3.6),(17.6,-4.7),(18.6,-5.2),(20,-4.8),(21,-4.6),(22,-4.7),(23,-4.6),(24,-4.6),(25,-4.8),(25.5,-4.5),(17,-5),(17.4,-5.8),(18.4,-6),(19.8,-5.6),(20.8,-5.5),(22,-5.6),(23,-5.5),(24,-5.5),(25,-5.5),(25.8,-5.4),(18.2,-6.6),(19.4,-6.4),(20.6,-6.2),(21.7,-6.4),(23,-6.4),(24.2,-6.3),(25.2,-6.3),(25.9,-6.6),(17.2,-6.7),(17.4,-7.4),(18.6,-7.4),(19.5,-7.4),(20.6,-7.2),(21.6,-7.3),(22.4,-7.1),(23.4,-7.4),(24.6,-7.2),(25.4,-7),(19.4,-8.3),(20.4,-8.1),(24.2,-7.9),(18.7,-9),(19.8,-8.7),(23.1,-9.8),(17.5,-13.3),(13.6,-1.6),(13.8,-2.2),(14.1,-2.6),(13.6,-3.2),(14.6,-2.8),(11.4,-4.1),(15.2,-4.9),(11.3,-4.3)]
purple_fill = [(18.1,-4.7),(19.2,-4.6),(19.4,-5.2),(20.4,-5),(21.4,-5.1),(22.5,-5.1),(23.5,-5),(24.5,-5),(25.3,-5.2),(18.9,-5.9),(20.2,-5.9),(21.3,-6),(22.5,-6),(23.6,-5.9),(24.6,-5.9),(25.5,-5.9),(18,-7),(19,-6.9),(20,-6.8),(21.1,-6.7),(22.1,-6.8),(23.2,-7),(24.2,-6.9),(25,-6.7),(19,-7.9),(20,-7.7),(21,-7.8),(22,-7.7),(19.4,-3.8),(21.1,-4),(20.6,-3)]

GROUPS = [
    (1, 6, blue_blob), (1, 6, blue_fill), (1, 6, blue_more),
    (4, 2, light_orange_blob), (4, 2, light_orange_fill), (4, 2, light_orange_more),
    (4, 3, light_orange_patch), (4, 15, light_orange_dark), (4, 15, light_orange_gap),
    (4, 2, light_orange_stray), (2, 3, light_blue_low), (2, 3, light_blue_low_fill), (2, 3, light_blue_low_more),
    (2, 16, light_blue_up), (3, 14, orange_blob), (3, 14, orange_fill), (3, 14, orange_more),
    (3, 14, orange_stray), (3, 14, orange_arc), (10, 7, lilac_blob), (10, 7, lilac_fill),
    (10, 7, lilac_stray), (11, 9, brown_c11), (12, 11, rose_c12), (19, 17, cyan_c19),
    (18, 15, khaki_top), (6, 13, mint_top), (5, 10, green_blob), (5, 10, green_fill),
    (16, 10, grey_top), (6, 1, green_c6_blue), (6, 1, green_c6_blue_fill),
    (6, 8, green_c6_salmon), (6, 8, green_c6_salmon_fill), (6, 13, green_c6_mag),
    (7, 13, red_blob), (7, 13, red_fill), (7, 4, red_to_orange),
    (15, 4, grey_c15), (13, 12, magenta_c13), (14, 5, pink_c14), (7, 5, red_right),
    (17, 5, olive_c17), (18, 15, khaki_c18), (9, 16, purple_blob), (9, 16, purple_fill),
]
rows = []
for c1, c2, pts in GROUPS:
    for x, y in pts:
        rows.append({"x": x, "y": y, "cluster": str(c1), "cluster2": str(c2)})
df = pd.DataFrame(rows)

COLORS = ["#1B66AB", "#A0BEE4", "#FF6F11", "#FFAD69", "#2C9A22", "#86DC78", "#CB1021", "#FF898D",
          "#7F4FB0", "#B9A0CE", "#7A4238", "#BB918C", "#DB5DB8", "#F2A5CD", "#6B6B6B", "#BBBBBB",
          "#B0B014", "#D1D47F", "#1BB5CC"]
X_TICKS = [-20, 0, 20]
Y_TICKS = [-20, 0, 20, 40]
X_DOM = [-40.1, 34.5]
Y_DOM = [-37.2, 45.4]


def panel(field, n):
    dom = [str(i) for i in range(1, n + 1)]
    scale = alt.Scale(domain=dom, range=COLORS[:n])
    return (
        alt.Chart(df)
        .mark_point(filled=True, size=100, fillOpacity=0.66, strokeOpacity=0.6, strokeWidth=1)
        .encode(
            x=alt.X("x:Q", scale=alt.Scale(domain=X_DOM, nice=False, zero=False),
                    axis=alt.Axis(values=X_TICKS, title="TSNE 1", grid=False,
                                  labelExpr="toString(datum.value)", labelPadding=3, titlePadding=5)),
            y=alt.Y("y:Q", scale=alt.Scale(domain=Y_DOM, nice=False, zero=False),
                    axis=alt.Axis(values=Y_TICKS, title="TSNE 2", grid=False,
                                  labelExpr="toString(datum.value)", labelPadding=5, titlePadding=6)),
            color=alt.Color(f"{field}:N", scale=scale, sort=dom,
                            legend=alt.Legend(title=field, orient="none", legendX=756, legendY=125,
                                              symbolType="circle", symbolSize=105, symbolOpacity=0.6,
                                              symbolStrokeWidth=0, symbolOffset=3,
                                              titleFontSize=26, titleFontWeight="normal", titleColor="black",
                                              labelFontSize=22, labelColor="black", rowPadding=7.3,
                                              titlePadding=14, labelOffset=14, clipHeight=22)),
            stroke=alt.Stroke(f"{field}:N", scale=scale, sort=dom, legend=None),
        )
        .properties(width=731, height=840)
    )


chart = (
    alt.hconcat(panel("cluster", 19), panel("cluster2", 17), spacing=30)
    .resolve_scale(color="independent", stroke="independent")
    .properties(padding={"left": 21, "top": 20, "right": 5, "bottom": 5})
    .configure(font="Liberation Sans")
    .configure_view(stroke=None, strokeWidth=0)
    .configure_axis(domainColor="black", domainWidth=3, tickColor="black", tickWidth=3, tickSize=6,
                    labelColor="black", labelFontSize=22, titleColor="black", titleFontSize=26,
                    titleFontWeight="normal")
)
chart.save("out.html", embed_options={"renderer": "svg", "actions": False})
